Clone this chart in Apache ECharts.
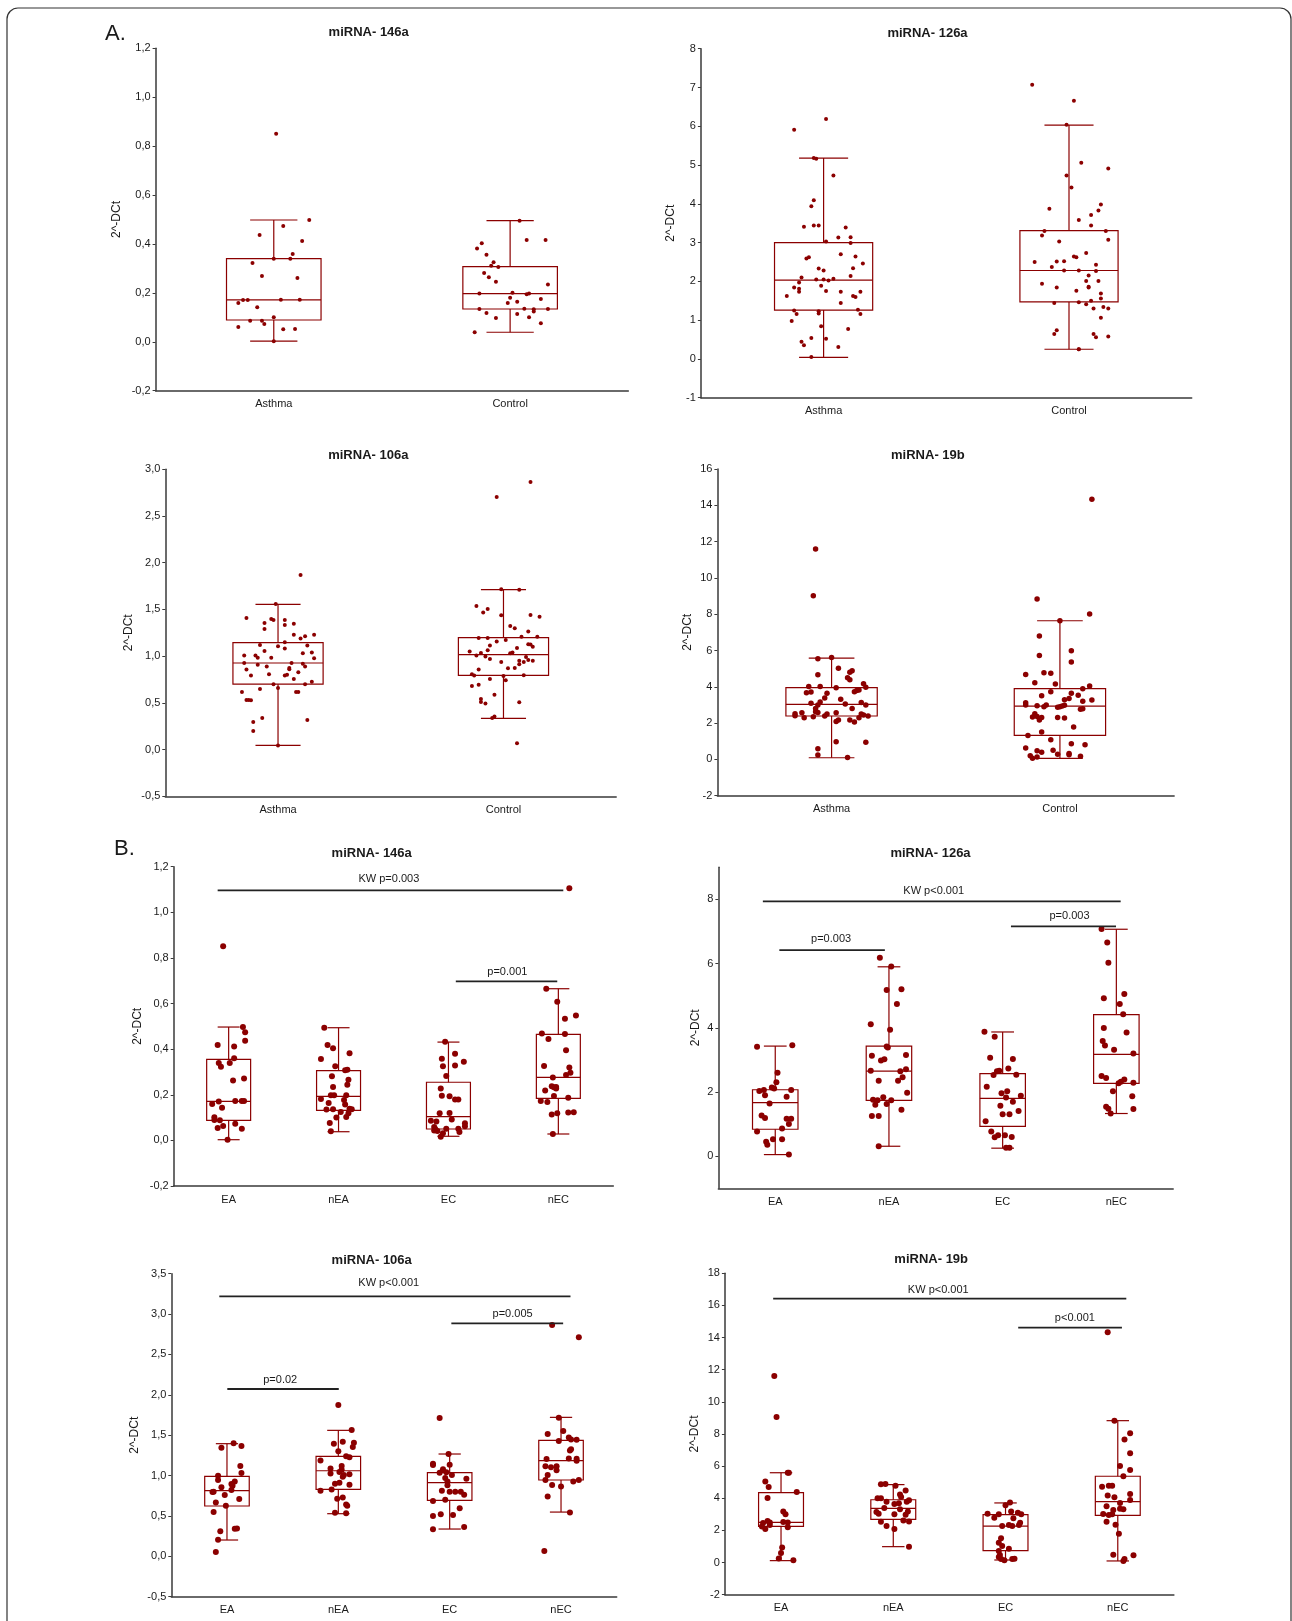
<!DOCTYPE html>
<html><head><meta charset="utf-8">
<script src="https://cdn.jsdelivr.net/npm/echarts/dist/echarts.min.js"></script>
<style>html,body{margin:0;padding:0;background:#fff}#c{width:1292px;height:1621px}</style>
</head><body><div id="c"></div>
<script>
// ---------------- DATA ----------------
const catsA = ['Asthma', 'Control'];
const catsB = ['EA', 'nEA', 'EC', 'nEC'];

// box stats: [lower whisker, Q1, median, Q3, upper whisker]
const A146_box = [[0.003,0.089,0.171,0.340,0.498],[0.039,0.134,0.197,0.307,0.495]];
const A126_box = [[0.04,1.26,2.03,3.00,5.18],[0.25,1.47,2.28,3.31,6.03]];
const A106_box = [[0.046,0.70,0.927,1.145,1.555],[0.335,0.795,1.016,1.198,1.712]];
const A19b_box = [[0.09,2.39,3.03,3.95,5.585],[0.06,1.32,2.94,3.895,7.64]];
const B146_box = [[0.003,0.088,0.171,0.355,0.497],[0.038,0.132,0.193,0.306,0.494],[0.018,0.050,0.104,0.255,0.431],[0.028,0.184,0.276,0.465,0.665]];
const B126_box = [[0.05,0.84,1.67,2.07,3.43],[0.31,1.74,2.65,3.43,5.90],[0.25,0.93,1.80,2.57,3.87],[1.33,2.27,3.17,4.41,7.07]];
const B106_box = [[0.202,0.623,0.813,0.99,1.395],[0.528,0.829,1.06,1.238,1.56],[0.338,0.693,0.912,1.036,1.267],[0.548,0.945,1.184,1.436,1.721]];
const B19b_box = [[0.12,2.25,2.50,4.35,5.59],[0.99,2.69,3.37,3.91,4.85],[0.16,0.74,2.27,2.98,3.71],[0.10,2.94,3.79,5.37,8.83]];

// individual values per group
const A146_Asthma = [0.851,0.498,0.473,0.437,0.412,0.359,0.340,0.340,0.322,0.269,0.261,0.171,0.171,0.159,0.172,0.172,0.141,0.100,0.086,0.086,0.073,0.060,0.051,0.052,0.002];
const A146_Control = [0.039,0.381,0.403,0.356,0.325,0.311,0.306,0.281,0.264,0.245,0.197,0.201,0.197,0.194,0.180,0.164,0.159,0.175,0.234,0.495,0.416,0.416,0.134,0.118,0.097,0.114,0.135,0.133,0.124,0.134,0.100,0.076];
const A126_Asthma = [6.19,5.91,5.18,5.16,4.73,4.09,3.94,3.41,3.44,3.44,3.39,3.14,3.13,3.03,2.99,2.70,2.64,2.62,2.59,2.46,2.33,2.34,2.28,2.10,2.14,2.07,2.05,2.05,2.02,1.97,1.89,1.84,1.81,1.73,1.75,1.73,1.73,1.62,1.62,1.60,1.44,1.25,1.27,1.23,1.17,1.16,1.16,0.98,0.84,0.77,0.52,0.54,0.44,0.35,0.31,0.05];
const A126_Control = [7.07,6.66,6.04,5.06,4.91,4.73,4.42,3.98,3.87,3.83,3.71,3.58,3.44,3.30,3.30,3.18,3.03,3.07,2.73,2.64,2.62,2.50,2.51,2.52,2.43,2.37,2.28,2.28,2.27,2.15,1.94,2.01,2.01,1.84,1.86,1.84,1.76,1.69,1.56,1.50,1.44,1.46,1.41,1.30,1.34,1.30,1.06,0.74,0.64,0.64,0.56,0.58,0.25,0.25];
const A106_Asthma = [1.869,1.559,1.409,1.398,1.387,1.387,1.355,1.348,1.334,1.291,1.230,1.213,1.230,1.188,1.148,1.120,1.106,1.113,1.081,1.056,1.038,1.006,1.006,1.031,0.984,0.984,0.977,0.927,0.927,0.920,0.909,0.888,0.888,0.874,0.860,0.856,0.827,0.806,0.792,0.802,0.792,0.756,0.727,0.699,0.699,0.649,0.660,0.617,0.617,0.617,0.531,0.531,0.528,0.339,0.317,0.296,0.200,0.043];
const A106_Control = [2.864,2.704,1.716,1.712,1.537,1.505,1.466,1.441,1.437,1.423,1.323,1.298,1.263,1.195,1.195,1.209,1.209,1.173,1.156,1.113,1.127,1.124,1.102,1.088,1.049,1.063,1.034,1.038,1.031,1.006,0.995,0.991,0.970,0.938,0.952,0.952,0.938,0.959,0.913,0.870,0.874,0.856,0.806,0.792,0.795,0.788,0.756,0.742,0.681,0.695,0.588,0.542,0.510,0.492,0.506,0.339,0.353,0.067];
const A19b_Asthma = [11.59,9.02,5.55,5.62,5.02,4.89,4.80,4.66,4.50,4.39,4.17,4.01,4.01,3.97,3.95,3.82,3.79,3.73,3.67,3.71,3.64,3.38,3.31,3.16,3.14,3.09,3.00,3.05,3.00,2.81,2.81,2.63,2.59,2.57,2.50,2.57,2.52,2.50,2.44,2.41,2.39,2.39,2.35,2.30,2.30,2.17,2.17,2.09,2.06,0.97,0.94,0.59,0.24,0.11];
const A19b_Control = [14.33,8.84,8.01,7.64,6.80,5.99,5.73,5.36,4.78,4.74,4.68,4.23,4.15,4.04,3.89,3.73,3.64,3.53,3.51,3.36,3.29,3.27,3.20,3.12,3.00,2.96,3.00,2.90,2.98,2.90,2.94,2.87,2.76,2.79,2.52,2.33,2.37,2.31,2.17,2.31,2.28,1.78,1.51,1.32,1.08,0.86,0.81,0.63,0.48,0.40,0.50,0.28,0.33,0.26,0.20,0.07,0.13,0.18];

const B146_EA = [0.851,0.497,0.474,0.437,0.418,0.412,0.360,0.339,0.339,0.323,0.263,0.271,0.171,0.173,0.173,0.173,0.160,0.143,0.101,0.089,0.088,0.073,0.063,0.054,0.051,0.003];
const B146_nEA = [0.494,0.418,0.404,0.382,0.357,0.325,0.310,0.307,0.281,0.266,0.244,0.234,0.198,0.198,0.198,0.181,0.177,0.164,0.157,0.135,0.136,0.139,0.136,0.124,0.119,0.100,0.103,0.076,0.040];
const B146_EC = [0.433,0.380,0.345,0.358,0.325,0.328,0.282,0.228,0.196,0.193,0.179,0.179,0.119,0.120,0.086,0.092,0.083,0.075,0.059,0.050,0.051,0.062,0.043,0.041,0.051,0.037,0.031,0.016];
const B146_nEC = [1.105,0.665,0.608,0.548,0.533,0.469,0.466,0.444,0.395,0.326,0.320,0.297,0.287,0.276,0.237,0.219,0.233,0.234,0.228,0.195,0.187,0.173,0.168,0.114,0.119,0.122,0.123,0.028];

const B126_EA = [3.41,3.46,2.60,2.30,2.14,2.11,2.03,2.06,2.06,1.90,1.64,1.85,1.27,1.19,1.17,1.17,1.00,0.86,0.77,0.45,0.36,0.53,0.53,0.05];
const B126_nEA = [6.18,5.91,5.18,5.20,4.74,4.11,3.94,3.42,3.39,3.13,3.15,2.98,3.02,2.66,2.65,2.71,2.46,2.35,2.35,1.98,1.76,1.74,1.84,1.74,1.60,1.63,1.45,1.25,1.25,0.31];
const B126_EC = [3.88,3.72,3.07,3.03,2.73,2.53,2.65,2.66,2.54,2.16,1.96,2.02,1.88,1.83,1.70,1.57,1.31,1.31,1.41,1.09,0.77,0.65,0.59,0.65,0.60,0.26,0.26];
const B126_nEC = [7.08,6.66,6.03,4.92,5.05,4.74,4.42,3.99,3.85,3.59,3.45,3.32,3.20,2.50,2.44,2.39,2.32,2.27,2.29,2.02,1.87,1.54,1.48,1.47,1.33];

const B106_EA = [1.399,1.345,1.366,1.118,1.031,0.998,0.945,0.928,0.895,0.875,0.854,0.796,0.800,0.821,0.759,0.709,0.668,0.627,0.549,0.342,0.346,0.309,0.206,0.053];
const B106_nEA = [1.874,1.564,1.420,1.395,1.407,1.353,1.300,1.238,1.226,1.188,1.089,1.118,1.073,1.027,1.015,1.007,1.044,0.986,0.899,0.912,0.887,0.813,0.829,0.730,0.714,0.643,0.627,0.540,0.532];
const B106_EC = [1.713,1.267,1.147,1.131,1.077,1.135,1.036,1.040,1.007,0.970,0.961,0.928,0.879,0.813,0.800,0.800,0.800,0.763,0.685,0.701,0.594,0.499,0.520,0.511,0.363,0.334];
const B106_nEC = [2.864,2.712,1.717,1.552,1.514,1.473,1.428,1.444,1.448,1.325,1.312,1.205,1.213,1.209,1.184,1.114,1.102,1.114,1.007,1.065,0.945,0.928,0.945,0.883,0.866,0.742,0.544,0.066];

const B19b_EA = [11.61,9.06,5.59,5.59,5.05,4.70,4.39,4.02,3.17,3.00,2.46,2.59,2.50,2.52,2.50,2.09,2.19,2.34,2.25,0.93,0.59,0.26,0.14];
const B19b_nEA = [4.87,4.89,4.78,4.49,4.24,4.08,4.00,4.00,3.79,3.64,3.87,3.79,3.39,3.31,3.15,3.04,3.00,3.17,2.98,2.61,2.56,2.54,2.27,2.09,0.99,3.69];
const B19b_EC = [3.73,3.56,3.04,3.00,3.17,3.10,3.00,2.79,2.75,2.27,2.34,2.27,2.34,2.48,1.51,1.24,1.03,0.86,0.72,0.47,0.34,0.22,0.14,0.22,0.24];
const B19b_nEC = [14.33,8.83,8.04,7.66,6.80,6.01,5.76,5.37,4.72,4.78,4.78,4.18,4.27,4.06,3.89,3.71,3.50,3.27,3.35,3.31,3.02,2.96,3.00,2.54,2.36,1.80,0.49,0.45,0.22,0.10];

// horizontal jitter of each dot, in category widths
const A146_Asthma_jit = [0.01,0.15,0.04,-0.06,0.12,0.08,0.00,0.07,-0.09,-0.05,0.10,-0.13,-0.11,-0.15,0.03,0.11,-0.07,0.00,-0.10,-0.05,-0.04,-0.15,0.04,0.09,0.00];
const A146_Control_jit = [-0.15,-0.14,-0.12,-0.10,-0.07,-0.08,-0.05,-0.11,-0.09,-0.06,-0.13,0.01,0.08,0.07,0.00,0.03,-0.01,0.13,0.16,0.04,0.07,0.15,-0.13,-0.10,-0.06,0.03,0.06,0.10,0.10,0.16,0.08,0.13];
const A126_Asthma_jit = [0.01,-0.12,-0.04,-0.03,0.04,-0.04,-0.05,-0.08,-0.04,-0.02,0.09,0.11,0.06,0.01,0.11,0.07,0.13,-0.06,-0.07,0.16,-0.02,0.12,0.00,-0.09,0.11,0.04,-0.03,0.00,0.02,-0.10,-0.01,-0.12,-0.10,-0.10,0.01,0.07,0.15,-0.15,0.12,0.13,0.07,-0.12,0.14,-0.02,-0.02,-0.11,0.15,-0.13,-0.01,0.10,0.01,-0.05,-0.09,-0.08,0.06,-0.05];
const A126_Control_jit = [-0.15,0.02,-0.01,0.05,0.16,-0.01,0.01,0.13,-0.08,0.12,0.09,0.04,0.09,-0.10,0.15,-0.11,-0.04,0.16,0.07,0.02,0.03,-0.14,-0.05,-0.02,0.11,-0.07,-0.02,0.04,0.11,0.08,-0.11,0.07,0.12,-0.05,0.08,0.08,0.03,0.13,0.13,0.09,-0.06,0.04,0.07,0.10,0.14,0.16,0.13,-0.05,-0.06,0.10,0.11,0.16,0.04,0.04];
const A106_Asthma_jit = [0.10,-0.01,-0.14,-0.03,-0.02,0.03,-0.06,0.07,0.03,-0.06,0.07,0.12,0.16,0.10,0.03,-0.08,0.00,0.13,0.03,-0.06,0.15,-0.15,-0.10,0.11,-0.09,-0.03,0.16,-0.15,0.06,0.11,-0.09,-0.05,0.12,0.05,0.05,-0.14,0.09,-0.04,-0.12,0.04,0.03,0.07,0.15,-0.02,0.12,-0.08,0.00,0.08,0.09,-0.16,-0.14,-0.13,-0.12,-0.07,0.13,-0.11,-0.11,0.00];
const A106_Control_jit = [0.12,-0.03,-0.01,0.07,-0.12,-0.07,-0.09,0.12,-0.01,0.16,0.03,0.05,0.11,-0.11,-0.07,0.08,0.15,0.01,-0.03,-0.06,0.11,0.12,0.13,0.06,-0.15,-0.07,-0.10,0.04,0.03,-0.12,-0.08,0.10,-0.06,-0.01,0.07,0.13,0.09,0.11,0.07,0.02,0.05,-0.11,-0.14,-0.13,0.09,0.00,-0.06,0.01,-0.14,-0.11,-0.04,-0.10,-0.10,-0.08,0.07,-0.05,-0.04,0.06];
const A19b_Asthma_jit = [-0.07,-0.08,-0.06,0.00,0.03,0.09,0.08,-0.06,0.07,0.08,0.14,-0.10,-0.05,0.15,0.02,0.12,0.11,0.10,-0.11,-0.09,-0.02,-0.03,0.04,-0.05,0.13,-0.09,-0.06,0.06,0.15,-0.07,0.09,-0.07,-0.06,-0.13,-0.02,0.02,-0.16,0.13,0.14,-0.16,0.16,-0.03,-0.08,-0.12,0.12,0.03,0.08,0.02,0.10,0.02,0.15,-0.06,-0.06,0.07];
const A19b_Control_jit = [0.14,-0.10,0.13,0.00,-0.09,0.05,-0.09,0.05,-0.07,-0.04,-0.15,-0.11,-0.02,0.13,0.10,-0.04,0.05,0.08,-0.08,0.04,0.02,0.14,0.10,-0.15,-0.15,-0.10,-0.06,-0.07,0.02,0.00,0.01,-0.01,0.09,0.10,-0.11,-0.12,-0.10,-0.08,-0.09,-0.01,0.02,0.06,-0.08,-0.14,-0.04,0.05,0.11,-0.15,-0.10,-0.08,-0.03,-0.01,0.04,0.04,-0.13,-0.12,-0.10,0.09];

const B146_EA_jit = [-0.05,0.13,0.15,0.15,-0.10,0.05,0.05,-0.09,0.01,-0.07,0.04,0.14,-0.09,0.06,0.12,0.14,-0.15,-0.06,-0.13,-0.13,-0.08,0.06,-0.05,-0.10,0.12,-0.01];
const B146_nEA_jit = [-0.13,-0.10,-0.05,0.10,-0.16,-0.03,0.08,0.06,-0.06,0.09,0.08,-0.05,-0.07,-0.04,0.07,-0.16,0.05,-0.09,0.06,-0.11,-0.05,0.10,0.12,0.02,0.09,-0.02,0.07,-0.08,-0.07];
const B146_EC_jit = [-0.03,0.06,0.14,-0.06,-0.05,0.06,-0.02,-0.07,-0.06,0.01,0.06,0.09,-0.08,0.01,-0.16,0.03,-0.11,0.15,-0.13,-0.12,0.09,0.15,-0.13,-0.10,-0.02,0.10,-0.05,-0.07];
const B146_nEC_jit = [0.10,-0.11,-0.01,0.16,0.06,-0.15,0.06,-0.09,0.07,-0.13,0.10,0.11,0.07,-0.05,-0.06,-0.12,-0.04,-0.02,-0.02,-0.04,0.09,-0.16,-0.10,-0.06,-0.01,0.09,0.14,-0.05];
const B126_EA_jit = [-0.16,0.15,0.02,0.01,-0.03,-0.01,-0.14,-0.10,0.14,-0.09,-0.05,0.10,-0.12,-0.09,0.10,0.14,0.12,0.06,-0.16,-0.08,-0.07,-0.02,0.06,0.12];
const B126_nEA_jit = [-0.08,0.02,-0.02,0.11,0.07,-0.16,0.01,-0.02,-0.01,-0.15,0.15,-0.07,-0.04,-0.16,0.10,0.15,0.12,-0.09,0.08,0.16,-0.14,-0.10,-0.05,0.02,-0.12,-0.02,0.11,-0.15,-0.09,-0.09];
const B126_EC_jit = [-0.16,-0.07,-0.11,0.09,0.05,-0.08,-0.05,-0.03,0.12,-0.14,-0.01,0.04,0.16,0.03,0.09,-0.02,0.00,0.06,0.14,-0.15,-0.10,-0.04,-0.07,0.02,0.08,0.03,0.06];
const B126_nEC_jit = [-0.13,-0.08,-0.07,-0.11,0.07,0.03,0.06,-0.11,0.09,-0.12,-0.10,-0.02,0.15,-0.13,-0.09,0.07,0.04,0.02,0.15,-0.03,0.14,-0.09,-0.07,0.15,-0.05];
const B106_EA_jit = [0.06,-0.05,0.13,0.12,0.13,-0.08,-0.08,0.07,0.04,0.05,-0.05,-0.13,-0.12,0.04,-0.02,0.11,-0.10,-0.01,-0.12,0.07,0.09,-0.06,-0.08,-0.10];
const B106_nEA_jit = [0.00,0.12,0.04,-0.04,0.14,0.13,0.00,0.07,0.10,-0.16,-0.07,0.03,0.03,-0.07,0.10,0.05,0.01,0.04,-0.03,0.01,0.10,-0.16,-0.06,0.04,-0.01,0.07,0.08,-0.03,0.07];
const B106_EC_jit = [-0.09,-0.01,-0.15,-0.15,-0.06,0.00,-0.09,-0.03,0.02,-0.04,0.15,-0.02,-0.02,-0.07,0.00,0.05,0.10,0.13,-0.15,-0.04,0.09,-0.15,-0.08,0.03,0.13,-0.15];
const B106_nEC_jit = [-0.08,0.16,-0.02,0.02,-0.12,0.07,-0.02,0.14,0.09,0.09,0.08,-0.13,0.07,0.14,0.14,-0.14,-0.09,-0.04,-0.12,-0.04,-0.14,0.11,0.16,-0.08,0.00,-0.12,0.08,-0.15];
const B19b_EA_jit = [-0.06,-0.04,0.07,0.06,-0.14,-0.11,0.14,-0.12,0.02,0.04,-0.16,-0.12,-0.10,0.02,0.06,-0.14,0.06,-0.10,-0.17,0.01,0.00,-0.02,0.11];
const B19b_nEA_jit = [-0.11,-0.07,0.02,0.11,0.06,0.07,-0.14,-0.11,-0.06,0.01,0.14,0.12,-0.08,0.06,-0.15,-0.13,0.01,0.13,0.11,0.09,0.14,-0.11,-0.06,0.01,0.14,0.05];
const B19b_EC_jit = [0.04,0.00,-0.16,-0.06,0.05,0.11,0.14,-0.10,0.07,-0.03,0.03,0.06,0.12,0.13,-0.04,-0.06,-0.03,0.03,-0.06,-0.05,-0.06,-0.04,-0.01,0.06,0.08];
const B19b_nEC_jit = [-0.09,-0.03,0.11,0.06,0.11,0.02,0.11,0.05,-0.14,-0.08,-0.05,-0.09,0.11,-0.03,0.11,0.02,-0.10,-0.04,0.02,0.05,-0.13,-0.08,-0.05,-0.10,-0.02,0.01,-0.04,0.14,0.06,0.05];

// significance brackets: [x from, x to, y of line, text x, text y] in axis units
const B146_ann = [[-0.10,3.045,1.096,1.458,1.145],[2.067,2.99,0.697,2.536,0.740]];
const B146_annText = ['KW p=0.003','p=0.001'];
const B126_ann = [[-0.109,3.038,7.94,1.394,8.27],[0.036,0.964,6.42,0.491,6.755],[2.073,2.997,7.16,2.588,7.49]];
const B126_annText = ['KW p<0.001','p=0.003','p=0.003'];
const B106_ann = [[-0.069,3.085,3.22,1.453,3.389],[2.015,3.019,2.885,2.565,3.0],[0.003,1.004,2.072,0.478,2.179]];
const B106_annText = ['KW p<0.001','p=0.005','p=0.02'];
const B19b_ann = [[-0.070,3.076,16.42,1.401,16.98],[2.113,3.037,14.62,2.618,15.24]];
const B19b_annText = ['KW p<0.001','p<0.001'];

// ---------------- LAYOUT ----------------
const FONT = '"Liberation Sans", Arial, Helvetica, sans-serif';
const RED = '#8b0000';
const AX = '#3a3a3a';
const TXT = '#1a1a1a';

const panels = [
  {title:'miRNA- 146a', t:[368.7,32.7], grid:{left:155.6,top:48.3,width:472.7,height:342.4}, y:{min:-0.2,max:1.2,interval:0.2}, dec:1, gap:33, sym:4,
   cats:catsA, box:A146_box, groups:[[A146_Asthma,A146_Asthma_jit],[A146_Control,A146_Control_jit]]},
  {title:'miRNA- 126a', t:[927.5,33.3], grid:{left:700.9,top:48.7,width:490.8,height:349}, y:{min:-1,max:8,interval:1}, dec:0, gap:24, sym:4,
   cats:catsA, box:A126_box, groups:[[A126_Asthma,A126_Asthma_jit],[A126_Control,A126_Control_jit]]},
  {title:'miRNA- 106a', t:[368.3,455], grid:{left:165.3,top:469.3,width:450.9,height:327}, y:{min:-0.5,max:3.0,interval:0.5}, dec:1, gap:31, sym:4,
   cats:catsA, box:A106_box, groups:[[A106_Asthma,A106_Asthma_jit],[A106_Control,A106_Control_jit]]},
  {title:'miRNA- 19b', t:[927.9,455], grid:{left:717.4,top:469,width:456.7,height:326.7}, y:{min:-2,max:16,interval:2}, dec:0, gap:24, sym:5.5,
   cats:catsA, box:A19b_box, groups:[[A19b_Asthma,A19b_Asthma_jit],[A19b_Control,A19b_Control_jit]]},
  {title:'miRNA- 146a', t:[371.7,853], grid:{left:173.7,top:866.7,width:439.6,height:319.3}, y:{min:-0.2,max:1.2,interval:0.2}, dec:1, gap:30, sym:6,
   cats:catsB, box:B146_box, groups:[[B146_EA,B146_EA_jit],[B146_nEA,B146_nEA_jit],[B146_EC,B146_EC_jit],[B146_nEC,B146_nEC_jit]], ann:B146_ann, annText:B146_annText},
  {title:'miRNA- 126a', t:[930.5,853.3], grid:{left:718.4,top:867.3,width:454.8,height:321}, y:{min:-1,max:9,custom:[0,2,4,6,8]}, dec:0, gap:17, sym:6,
   cats:catsB, box:B126_box, groups:[[B126_EA,B126_EA_jit],[B126_nEA,B126_nEA_jit],[B126_EC,B126_EC_jit],[B126_nEC,B126_nEC_jit]], ann:B126_ann, annText:B126_annText},
  {title:'miRNA- 106a', t:[371.7,1260], grid:{left:171.3,top:1273.7,width:445.4,height:323}, y:{min:-0.5,max:3.5,interval:0.5}, dec:1, gap:31, sym:6,
   cats:catsB, box:B106_box, groups:[[B106_EA,B106_EA_jit],[B106_nEA,B106_nEA_jit],[B106_EC,B106_EC_jit],[B106_nEC,B106_nEC_jit]], ann:B106_ann, annText:B106_annText},
  {title:'miRNA- 19b', t:[931.2,1259.3], grid:{left:724.9,top:1273.3,width:449,height:321.4}, y:{min:-2,max:18,interval:2}, dec:0, gap:24, sym:6,
   cats:catsB, box:B19b_box, groups:[[B19b_EA,B19b_EA_jit],[B19b_nEA,B19b_nEA_jit],[B19b_EC,B19b_EC_jit],[B19b_nEC,B19b_nEC_jit]], ann:B19b_ann, annText:B19b_annText}
];

// ---------------- BUILD ----------------
function renderBox(params, api) {
  const x = api.value(0);
  const pLo = api.coord([x, api.value(1)]);
  const pQ1 = api.coord([x, api.value(2)]);
  const pMd = api.coord([x, api.value(3)]);
  const pQ3 = api.coord([x, api.value(4)]);
  const pHi = api.coord([x, api.value(5)]);
  const bw = api.size([0.4, 0])[0], cw = api.size([0.2, 0])[0];
  const cx = pMd[0];
  const st = {stroke: RED, fill: 'none', lineWidth: 1.2};
  const L = (x1, y1, x2, y2) => ({type: 'line', shape: {x1, y1, x2, y2}, style: st});
  return {type: 'group', children: [
    {type: 'rect', shape: {x: cx - bw / 2, y: pQ3[1], width: bw, height: pQ1[1] - pQ3[1]}, style: st},
    L(cx - bw / 2, pMd[1], cx + bw / 2, pMd[1]),
    L(cx, pQ3[1], cx, pHi[1]),
    L(cx, pQ1[1], cx, pLo[1]),
    L(cx - cw / 2, pHi[1], cx + cw / 2, pHi[1]),
    L(cx - cw / 2, pLo[1], cx + cw / 2, pLo[1])
  ]};
}

function makeAnnRender(texts) {
  return function (params, api) {
    const a = api.coord([api.value(0), api.value(2)]);
    const b = api.coord([api.value(1), api.value(2)]);
    const t = api.coord([api.value(3), api.value(4)]);
    return {type: 'group', children: [
      {type: 'line', shape: {x1: a[0], y1: a[1], x2: b[0], y2: b[1]}, style: {stroke: '#222', lineWidth: 1.8}},
      {type: 'text', x: t[0], y: t[1], style: {text: texts[params.dataIndex], font: '11px ' + FONT, fill: TXT,
        align: 'center', verticalAlign: 'middle', textAlign: 'center', textVerticalAlign: 'middle'}}
    ]};
  };
}

const grids = [], xAxes = [], yAxes = [], series = [], graphics = [];

panels.forEach((p, i) => {
  grids.push(Object.assign({containLabel: false}, p.grid));
  const n = p.cats.length;
  xAxes.push({type: 'category', gridIndex: i, data: p.cats, boundaryGap: true, position: 'bottom',
    axisLine: {onZero: false, lineStyle: {color: AX, width: 1.5}},
    axisTick: {alignWithLabel: true, length: 3, lineStyle: {color: AX}},
    axisLabel: {color: TXT, fontSize: 11, fontFamily: FONT, margin: 8},
    splitLine: {show: false}});
  xAxes.push({type: 'value', gridIndex: i, min: -0.5, max: n - 0.5, show: false});
  const fmt = p.dec ? (v => v.toFixed(1).replace('.', ',')) : (v => String(Math.round(v)));
  const ya = {type: 'value', gridIndex: i, min: p.y.min, max: p.y.max, position: 'left',
    name: '2^-DCt', nameLocation: 'middle', nameRotate: 90, nameGap: p.gap,
    nameTextStyle: {color: TXT, fontSize: 12, fontFamily: FONT},
    axisLine: {show: true, onZero: false, lineStyle: {color: AX, width: 1.5}},
    axisTick: {show: true, length: 3, lineStyle: {color: AX}},
    axisLabel: {color: TXT, fontSize: 11, fontFamily: FONT, margin: 5, formatter: fmt},
    splitLine: {show: false}};
  if (p.y.interval) ya.interval = p.y.interval;
  if (p.y.custom) { ya.axisLabel.customValues = p.y.custom; ya.axisTick.customValues = p.y.custom; }
  yAxes.push(ya);

  series.push({type: 'custom', xAxisIndex: 2 * i + 1, yAxisIndex: i, renderItem: renderBox, z: 2, silent: true,
    data: p.box.map((b, k) => [k].concat(b))});

  const pts = [];
  p.groups.forEach((g, k) => {
    const vals = g[0], jit = g[1];
    vals.forEach((v, m) => pts.push([k + (jit[m] || 0), v]));
  });
  series.push({type: 'scatter', xAxisIndex: 2 * i + 1, yAxisIndex: i, data: pts, symbol: 'circle', symbolSize: p.sym,
    itemStyle: {color: RED, opacity: 1}, z: 3, silent: true});

  if (p.ann) {
    series.push({type: 'custom', xAxisIndex: 2 * i + 1, yAxisIndex: i, renderItem: makeAnnRender(p.annText), z: 4, silent: true,
      data: p.ann});
  }

  graphics.push({type: 'text', x: p.t[0], y: p.t[1], style: {text: p.title, font: 'bold 13px ' + FONT, fill: TXT,
    align: 'center', verticalAlign: 'middle', textAlign: 'center', textVerticalAlign: 'middle'}});
});

graphics.push({type: 'text', x: 105, y: 34, style: {text: 'A.', font: '22px ' + FONT, fill: TXT,
  align: 'left', verticalAlign: 'middle', textAlign: 'left', textVerticalAlign: 'middle'}});
graphics.push({type: 'text', x: 114, y: 849, style: {text: 'B.', font: '22px ' + FONT, fill: TXT,
  align: 'left', verticalAlign: 'middle', textAlign: 'left', textVerticalAlign: 'middle'}});
graphics.push({type: 'rect', shape: {x: 7, y: 8, width: 1284, height: 1700, r: [11, 11, 0, 0]},
  style: {fill: 'none', stroke: '#333', lineWidth: 1.2}, z: -1});

const chart = echarts.init(document.getElementById('c'), null, {renderer: 'canvas', width: 1292, height: 1621});
chart.setOption({
  animation: false,
  backgroundColor: '#fff',
  grid: grids, xAxis: xAxes, yAxis: yAxes, series: series,
  graphic: {elements: graphics}
});
</script></body></html>
